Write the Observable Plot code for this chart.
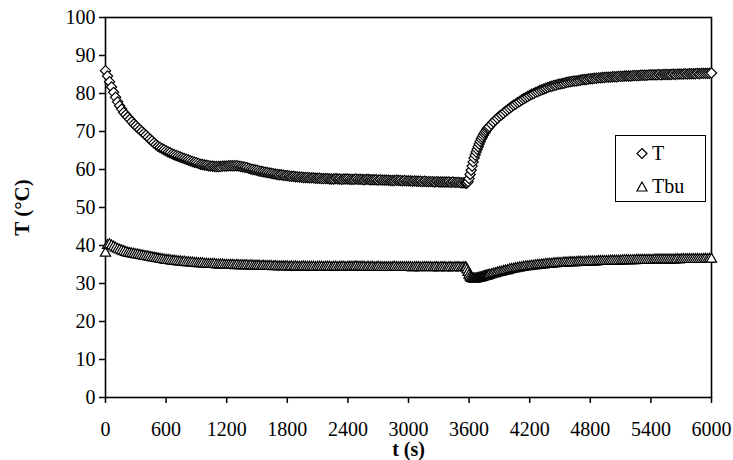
<!DOCTYPE html>
<html>
<head>
<meta charset="utf-8">
<script src="https://cdn.jsdelivr.net/npm/d3@7"></script>
<script src="https://cdn.jsdelivr.net/npm/@observablehq/plot@0.6"></script>
<style>
  html, body { margin: 0; padding: 0; background: white; overflow: hidden; }
  #wrap { position: relative; width: 733px; height: 460px; }
  #legend { position: absolute; left: 615px; top: 135px; width: 89px; height: 65px;
            border: 1.5px solid black; background: white; font-family: "Liberation Serif", serif; font-size: 20px; }
</style>
</head>
<body>
<div id="wrap"></div>
<script>
// Time samples (s)
const t1 = d3.range(0, 3560, 20);
const t2 = d3.range(3560, 3800, 10);
const t3 = d3.range(3800, 6001, 20);
const times = [...t1, ...t2, ...t3];

// T (°C) — diamonds
const seriesT = [
  86.0, 84.6, 83.1, 81.7, 80.3, 79.0, 77.8, 76.8, 75.9, 75.0,
  74.4, 73.8, 73.2, 72.6, 72.0, 71.5, 71.0, 70.5, 70.0, 69.5,
  69.0, 68.5, 68.0, 67.5, 67.0, 66.5, 66.1, 65.8, 65.5, 65.2,
  64.9, 64.6, 64.4, 64.1, 63.9, 63.7, 63.5, 63.3, 63.1, 62.9,
  62.7, 62.5, 62.3, 62.1, 61.9, 61.8, 61.6, 61.4, 61.3, 61.2,
  61.1, 61.0, 60.9, 60.9, 60.8, 60.8, 60.8, 60.8, 60.9, 60.9,
  60.9, 61.0, 61.0, 61.0, 61.0, 61.0, 60.9, 60.8, 60.7, 60.6,
  60.5, 60.3, 60.1, 60.0, 59.9, 59.8, 59.6, 59.5, 59.4, 59.3,
  59.2, 59.1, 59.0, 58.9, 58.8, 58.7, 58.6, 58.6, 58.5, 58.4,
  58.4, 58.3, 58.2, 58.2, 58.1, 58.1, 58.0, 58.0, 57.9, 57.9,
  57.9, 57.8, 57.8, 57.8, 57.7, 57.7, 57.7, 57.6, 57.6, 57.6,
  57.6, 57.5, 57.5, 57.5, 57.6, 57.5, 57.5, 57.4, 57.5, 57.5,
  57.5, 57.4, 57.4, 57.4, 57.5, 57.4, 57.4, 57.4, 57.3, 57.4,
  57.4, 57.3, 57.3, 57.3, 57.3, 57.2, 57.3, 57.2, 57.2, 57.2,
  57.2, 57.1, 57.1, 57.1, 57.2, 57.1, 57.1, 57.0, 57.1, 57.0,
  57.0, 57.0, 56.9, 57.0, 56.9, 56.9, 56.9, 56.8, 56.9, 56.8,
  56.8, 56.8, 56.8, 56.7, 56.8, 56.7, 56.7, 56.7, 56.7, 56.7,
  56.7, 56.6, 56.7, 56.6, 56.6, 56.6, 56.5, 56.5,
  // 3560–3790 every 10 s
  56.5, 56.4, 56.5, 56.8, 57.6, 58.7, 59.8, 60.9, 62.0, 63.0,
  63.8, 64.6, 65.3, 66.0, 66.7, 67.4, 68.0, 68.5, 69.0, 69.5,
  69.9, 70.3, 70.7, 71.0,
  // 3800–6000 every 20 s
  71.3, 71.9, 72.5, 73.0, 73.5, 74.0, 74.4, 74.8, 75.3, 75.7,
  76.1, 76.5, 76.9, 77.2, 77.6, 77.9, 78.3, 78.6, 78.9, 79.2,
  79.5, 79.8, 80.0, 80.3, 80.5, 80.8, 81.0, 81.2, 81.4, 81.6,
  81.8, 81.9, 82.1, 82.2, 82.4, 82.5, 82.6, 82.7, 82.9, 83.0,
  83.1, 83.2, 83.3, 83.3, 83.4, 83.5, 83.6, 83.7, 83.7, 83.8,
  83.9, 83.9, 84.0, 84.0, 84.1, 84.1, 84.2, 84.2, 84.3, 84.3,
  84.3, 84.4, 84.4, 84.4, 84.5, 84.5, 84.5, 84.6, 84.6, 84.6,
  84.6, 84.7, 84.7, 84.7, 84.7, 84.8, 84.8, 84.8, 84.8, 84.9,
  84.9, 84.9, 84.9, 84.9, 85.0, 84.9, 85.0, 85.0, 85.0, 85.0,
  85.0, 85.1, 85.0, 85.1, 85.1, 85.1, 85.1, 85.2, 85.1, 85.2,
  85.2, 85.2, 85.2, 85.3, 85.2, 85.3, 85.3, 85.3, 85.3, 85.3,
  85.4
];

// Tbu (°C) — triangles
const seriesTbu = [
  38.0, 40.0, 40.2, 39.9, 39.6, 39.3, 39.0, 38.8, 38.6, 38.4,
  38.2, 38.0, 37.9, 37.8, 37.7, 37.6, 37.5, 37.4, 37.3, 37.2,
  37.1, 37.0, 36.9, 36.8, 36.7, 36.6, 36.5, 36.4, 36.3, 36.2,
  36.1, 36.1, 36.0, 35.9, 35.9, 35.8, 35.7, 35.7, 35.6, 35.6,
  35.5, 35.5, 35.4, 35.4, 35.3, 35.3, 35.2, 35.2, 35.2, 35.1,
  35.1, 35.0, 35.0, 35.0, 35.0, 34.9, 34.9, 34.9, 34.9, 34.8,
  34.8, 34.8, 34.8, 34.8, 34.7, 34.8, 34.7, 34.7, 34.7, 34.7,
  34.7, 34.6, 34.7, 34.6, 34.6, 34.6, 34.6, 34.5, 34.6, 34.5,
  34.5, 34.5, 34.5, 34.4, 34.5, 34.4, 34.4, 34.4, 34.4, 34.4,
  34.4, 34.3, 34.4, 34.3, 34.4, 34.3, 34.3, 34.3, 34.4, 34.3,
  34.3, 34.3, 34.3, 34.3, 34.2, 34.3, 34.3, 34.3, 34.2, 34.3,
  34.3, 34.3, 34.2, 34.3, 34.3, 34.2, 34.3, 34.3, 34.3, 34.2,
  34.3, 34.3, 34.3, 34.3, 34.4, 34.3, 34.3, 34.3, 34.3, 34.2,
  34.3, 34.2, 34.3, 34.2, 34.2, 34.3, 34.2, 34.2, 34.2, 34.2,
  34.2, 34.2, 34.2, 34.3, 34.2, 34.2, 34.2, 34.2, 34.2, 34.2,
  34.2, 34.2, 34.1, 34.2, 34.2, 34.2, 34.1, 34.2, 34.2, 34.2,
  34.2, 34.2, 34.1, 34.2, 34.2, 34.1, 34.2, 34.2, 34.2, 34.1,
  34.2, 34.2, 34.1, 34.2, 34.2, 34.2, 34.1, 34.2,
  // 3560–3790 every 10 s
  34.2, 34.1, 33.6, 32.9, 32.2, 31.7, 31.4, 31.3, 31.2, 31.2,
  31.2, 31.2, 31.3, 31.3, 31.4, 31.5, 31.5, 31.6, 31.7, 31.8,
  31.9, 31.9, 32.0, 32.1,
  // 3800–6000 every 20 s
  32.2, 32.3, 32.5, 32.6, 32.8, 32.9, 33.0, 33.2, 33.3, 33.4,
  33.6, 33.7, 33.8, 33.9, 34.0, 34.1, 34.2, 34.3, 34.4, 34.4,
  34.5, 34.6, 34.6, 34.7, 34.8, 34.8, 34.9, 34.9, 35.0, 35.0,
  35.1, 35.1, 35.2, 35.2, 35.3, 35.3, 35.3, 35.4, 35.4, 35.4,
  35.5, 35.5, 35.5, 35.5, 35.6, 35.6, 35.6, 35.6, 35.6, 35.7,
  35.7, 35.7, 35.7, 35.7, 35.8, 35.8, 35.8, 35.8, 35.8, 35.8,
  35.9, 35.9, 35.9, 35.9, 35.9, 35.9, 36.0, 36.0, 36.0, 36.0,
  36.0, 36.0, 36.0, 36.1, 36.1, 36.1, 36.1, 36.1, 36.1, 36.1,
  36.1, 36.1, 36.2, 36.2, 36.2, 36.2, 36.2, 36.2, 36.2, 36.2,
  36.2, 36.2, 36.2, 36.3, 36.2, 36.3, 36.3, 36.3, 36.3, 36.3,
  36.3, 36.3, 36.3, 36.3, 36.3, 36.3, 36.3, 36.4, 36.3, 36.4,
  36.4
];

const xTicks = [0, 600, 1200, 1800, 2400, 3000, 3600, 4200, 4800, 5400, 6000];
const yTicks = [0, 10, 20, 30, 40, 50, 60, 70, 80, 90, 100];
const xTitle = "t (s)";
const yTitle = "T (°C)";
const legendLabels = ["T", "Tbu"];

const dataT = times.map((t, i) => ({t, v: seriesT[i]}));
const dataTbu = times.map((t, i) => ({t, v: seriesTbu[i]}));

const font = "'Liberation Serif', 'Times New Roman', serif";

const chart = Plot.plot({
  width: 733,
  height: 460,
  marginLeft: 105,
  marginRight: 22,
  marginTop: 17,
  marginBottom: 63,
  style: {fontFamily: font, fontSize: "20px", color: "black", background: "white"},
  x: {domain: [0, 6000]},
  y: {domain: [0, 100]},
  marks: [
    Plot.axisX({ticks: xTicks, tickSize: 6, tickPadding: 18, tickFormat: d => String(d), label: null, strokeWidth: 1.5, fontSize: 20, fill: "black"}),
    Plot.axisY({ticks: yTicks, tickSize: 6, tickPadding: 4, tickFormat: d => String(d), label: null, strokeWidth: 1.5, fontSize: 20, fill: "black"}),
    Plot.frame({stroke: "black", strokeWidth: 1.6}),
    Plot.dot(dataTbu, {x: "t", y: "v", symbol: "triangle2", r: 4.9, fill: "white", stroke: "black", strokeWidth: 1.2}),
    Plot.dot(dataT, {x: "t", y: "v", symbol: "diamond2", r: 4.6, fill: "white", stroke: "black", strokeWidth: 1.2}),
    Plot.text([xTitle], {frameAnchor: "bottom", dy: 52, lineAnchor: "middle", textAnchor: "middle", fontWeight: "bold", fontSize: 20, fill: "black"}),
    Plot.text([yTitle], {frameAnchor: "left", dx: -83, rotate: -90, lineAnchor: "middle", textAnchor: "middle", fontWeight: "bold", fontSize: 21, fill: "black"})
  ]
});

const wrap = document.getElementById("wrap");
wrap.appendChild(chart);

// Legend (inside plot area, as in the reference)
const legend = document.createElement("div");
legend.id = "legend";
legend.innerHTML = `
<svg width="89" height="65" style="position:absolute;left:0;top:0;overflow:visible">
  <path d="M26,12.5 L31,17.5 L26,22.5 L21,17.5 Z" fill="white" stroke="black" stroke-width="1.2"/>
  <text x="36" y="24" font-family="Liberation Serif, serif" font-size="20">${legendLabels[0]}</text>
  <path d="M26,46 L31,55 L21,55 Z" fill="white" stroke="black" stroke-width="1.2"/>
  <text x="36" y="57" font-family="Liberation Serif, serif" font-size="20">${legendLabels[1]}</text>
</svg>`;
wrap.appendChild(legend);
</script>
</body>
</html>
